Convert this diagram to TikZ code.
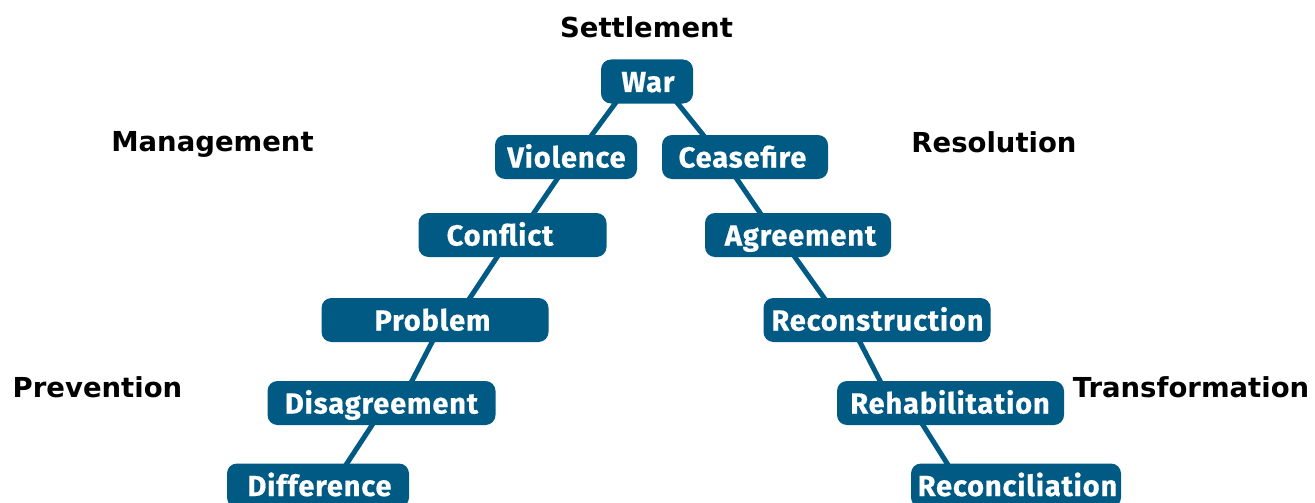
\documentclass[tikz,border=0pt]{standalone}
\usepackage{fontspec}
\setmainfont{DejaVu Sans}
\newfontfamily\boxfont{Fira Sans}[BoldFeatures={LetterSpace=3,FakeBold=0.6}]
\newfontfamily\labfont{DejaVu Sans}
\usetikzlibrary{backgrounds}
\definecolor{boxblue}{RGB}{0,90,132}
\tikzset{
  x=1pt, y=-1pt,
  box/.style={fill=boxblue, rounded corners=10pt, minimum height=44pt, inner sep=0pt, draw=none},
  boxtext/.style={text=white, anchor=base, inner sep=0pt, font=\boxfont\bfseries\fontsize{29}{30}\selectfont},
  lab/.style={text=black, anchor=base, inner sep=0pt, font=\labfont\bfseries\fontsize{27.5}{30}\selectfont},
  conn/.style={draw=boxblue, line width=5pt, shorten <=-6pt, shorten >=-6pt}
}
\begin{document}
\begin{tikzpicture}
\useasboundingbox (0,0) rectangle (1315,503);
% boxes
\node[box, minimum width=92pt] (war) at (647,81.5) {};
\node[box, minimum width=142pt] (vio) at (566,157) {};
\node[box, minimum width=166pt] (cea) at (745,157) {};
\node[box, minimum width=188pt] (con) at (512.5,235) {};
\node[box, minimum width=186pt] (agr) at (798,235) {};
\node[box, minimum width=227pt] (pro) at (435,320) {};
\node[box, minimum width=227pt] (rec) at (877,320) {};
\node[box, minimum width=228pt] (dis) at (381.5,403) {};
\node[box, minimum width=227pt] (reh) at (950.5,403) {};
\node[box, minimum width=182pt] (dif) at (318,485.5) {};
\node[box, minimum width=210pt] (rcl) at (1016,485.5) {};
% box texts
\node[boxtext] (warT) at (648,92) {War};
\node[boxtext] (vioT) at (566.5,167.5) {Violence};
\node[boxtext] (ceaT) at (742.5,167.5) {Ceasefire};
\node[boxtext] (conT) at (500,245.5) {Conflict};
\node[boxtext] (agrT) at (800.5,245.5) {Agreement};
\node[boxtext] (proT) at (432.5,330.5) {Problem};
\node[boxtext] (recT) at (877.5,330.5) {Reconstruction};
\node[boxtext] (disT) at (381.5,413.5) {Disagreement};
\node[boxtext] (rehT) at (950,413.5) {Rehabilitation};
\node[boxtext] (difT) at (319.5,496) {Difference};
\node[boxtext] (rclT) at (1017.5,496) {Reconciliation};
% connectors
\begin{pgfonlayer}{background}
\draw[conn] ([xshift=-32pt]war.south) -- ([xshift=26pt]vio.north);
\draw[conn] ([xshift=31pt]war.south) -- ([xshift=-42pt]cea.north);
\draw[conn] ([xshift=-9pt]vio.south) -- ([xshift=21.5pt]con.north);
\draw[conn] ([xshift=-15.5pt]con.south) -- ([xshift=35pt]pro.north);
\draw[conn] ([xshift=-3pt]pro.south) -- ([xshift=30.5pt]dis.north);
\draw[conn] ([xshift=-9.5pt]dis.south) -- ([xshift=29pt]dif.north);
\draw[conn] ([xshift=-8pt]cea.south) -- ([xshift=-38pt]agr.north);
\draw[conn] ([xshift=-3pt]agr.south) -- ([xshift=-53pt]rec.north);
\draw[conn] ([xshift=-17pt]rec.south) -- ([xshift=-70.5pt]reh.north);
\draw[conn] ([xshift=-27.5pt]reh.south) -- ([xshift=-69pt]rcl.north);
\end{pgfonlayer}
% labels
\node[lab] (settle) at (646.5,38) {Settlement};
\node[lab] (manage) at (212.5,151) {Management};
\node[lab] (resol) at (994,152) {Resolution};
\node[lab] (prev) at (97.5,397) {Prevention};
\node[lab] (trans) at (1191,397) {Transformation};
\end{tikzpicture}
\end{document}
